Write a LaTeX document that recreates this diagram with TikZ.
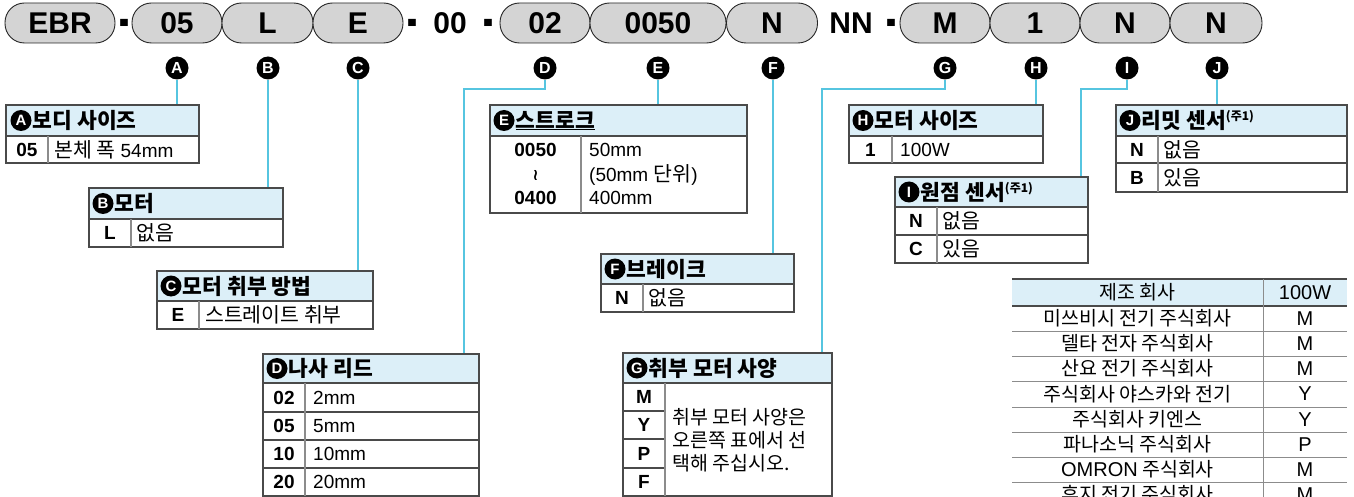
\documentclass[tikz,border=0pt]{standalone}
\usepackage{fontspec}
\setmainfont{Liberation Sans}
\newfontfamily\kr{Noto Sans CJK KR}
\newfontfamily\lat{Liberation Sans}
\newfontfamily\dejavu{DejaVu Sans}
\usetikzlibrary{positioning}
\definecolor{wirecyan}{HTML}{56C5E0}
\definecolor{hdrblue}{HTML}{DCEFF8}
\definecolor{pillgray}{HTML}{D4D4D4}
\definecolor{rule}{HTML}{4A4A4A}
\definecolor{rulelight}{HTML}{8C8C8C}
\newcommand{\ko}[1]{{\kr\fontsize{20.5}{22}\selectfont #1}}
\newcommand{\note}{\raisebox{8pt}{\fontsize{12}{12}\selectfont (주1)}}
\tikzset{
  pill/.style={draw=black!85, line width=0.9pt, fill=pillgray, rounded corners=19.5pt, minimum height=40pt, inner sep=0pt, font=\bfseries\fontsize{30}{30}\selectfont},
  sep/.style={anchor=base, inner sep=0pt, font=\bfseries\fontsize{30}{30}\selectfont},
  badge/.style={circle, fill=black, text=white, inner sep=0pt, minimum size=23pt, font=\bfseries\fontsize{16}{16}\selectfont},
  hbadge/.style={circle, fill=black, text=white, inner sep=0pt, minimum size=21pt, font=\bfseries\fontsize{15}{15}\selectfont},
  htxt/.style={inner sep=0pt, font=\kr\bfseries\fontsize{21.5}{23}\selectfont},
  hdr/.style={draw=rule, line width=1.2pt, fill=hdrblue},
  tbl/.style={draw=rule, line width=1.2pt},
  col/.style={draw=rulelight, line width=1.2pt},
  code/.style={inner sep=0pt, font=\bfseries\fontsize{19}{22}\selectfont},
  desc/.style={inner sep=0pt, anchor=west, font=\fontsize{19}{22}\selectfont},
  link/.style={draw=wirecyan, line width=1.3pt},
  maker/.style={inner sep=0pt, font=\kr\fontsize{19.5}{21}\selectfont},
  makerval/.style={inner sep=0pt, font=\fontsize{20}{22}\selectfont},
}
\begin{document}
\begin{tikzpicture}[x=1pt,y=-1pt]
\useasboundingbox (0,0) rectangle (1354,497);
\clip (0,0) rectangle (1354,497);

% model code
\node[pill, minimum width=110pt] (pebr) at (60,23) {EBR};
\node[sep] (s1) at (124,39) {\scalebox{1}[2]{-}};
\node[pill, minimum width=90pt] (pa) at (177,23) {05};
\node[pill, minimum width=91pt] (pb) at (267.5,23) {L};
\node[pill, minimum width=90pt] (pc) at (358,23) {E};
\node[sep] (s2) at (412,39) {\scalebox{1}[2]{-}};
\node[sep] (s00) at (450,34) {00};
\node[sep] (s3) at (488,39) {\scalebox{1}[2]{-}};
\node[pill, minimum width=90pt] (pd) at (545,23) {02};
\node[pill, minimum width=136pt] (pe) at (658,23) {0050};
\node[pill, minimum width=91pt] (pf) at (772,23) {N};
\node[sep] (snn) at (851,34) {NN};
\node[sep] (s4) at (891,39) {\scalebox{1}[2]{-}};
\node[pill, minimum width=90pt] (pg) at (945,23) {M};
\node[pill, minimum width=90pt] (ph) at (1035,23) {1};
\node[pill, minimum width=90pt] (pi) at (1125,23) {N};
\node[pill, minimum width=92pt] (pj) at (1216,23) {N};

\foreach \n/\x/\l in {a/177/A,b/268/B,c/358/C,d/545/D,e/658/E,f/773/F,g/945/G,h/1036/H,i/1127/I,j/1217/J}
  {\node[badge] (c\n) at (\x,68) {\l};}

% connectors
\foreach \n/\x/\y in {a/177/105,b/268/188,c/358/271,e/658/105,f/773/254,h/1036/105,j/1217/105}
  {\coordinate (t\n) at (\x,\y); \draw[link] (c\n) -- (t\n);}
\coordinate (kd) at (545,89); \coordinate (td) at (464,354);
\coordinate (kg) at (945,89); \coordinate (tg) at (822,353);
\coordinate (ki) at (1127,89); \coordinate (ti) at (1081,177);
\draw[link] (cd) -- (kd) -| (td);
\draw[link] (cg) -- (kg) -| (tg);
\draw[link] (ci) -- (ki) -| (ti);

% A
\draw[hdr] (6,105) rectangle (199,136);
\draw[tbl] (6,136) rectangle (199,163);
\draw[col] (48,136) -- (48,163);
\node[hbadge] (ha) at (21,120.5) {A};
\node[htxt, right=1pt of ha] (hta) {보디 사이즈};
\node[code] (a05) at (27,149.5) {05};
\node[desc] (ad) at (54,149.5) {\ko{본체 폭} 54mm};

% B
\draw[hdr] (89,188) rectangle (283,219);
\draw[tbl] (89,219) rectangle (283,247);
\draw[col] (131,219) -- (131,247);
\node[hbadge] (hb) at (103,203.5) {B};
\node[htxt, right=1pt of hb] (htb) {모터};
\node[code] (bl) at (110,233) {L};
\node[desc] (bd) at (136,233) {\ko{없음}};

% C
\draw[hdr] (157,271) rectangle (373,301);
\draw[tbl] (157,301) rectangle (373,329);
\draw[col] (199,301) -- (199,329);
\node[hbadge] (hc) at (171,286) {C};
\node[htxt, right=1pt of hc] (htc) {모터 취부 방법};
\node[code] (ce) at (178,315) {E};
\node[desc] (cdsc) at (205,315) {\ko{스트레이트 취부}};

% D
\draw[hdr] (263,354) rectangle (479,383);
\draw[tbl] (263,383) rectangle (479,496);
\foreach \y in {412,440,468} {\draw[tbl] (263,\y) -- (479,\y);}
\draw[col] (305,383) -- (305,496);
\node[hbadge] (hd) at (277,368.5) {D};
\node[htxt, right=1pt of hd] (htd) {나사 리드};
\foreach \c/\d/\y in {02/2mm/397.5,05/5mm/426,10/10mm/454,20/20mm/482}
  {\node[code] (d\c) at (284,\y) {\c}; \node[desc] (dd\c) at (313,\y) {\d};}

% E
\draw[hdr] (490,105) rectangle (747,136);
\draw[tbl] (490,136) rectangle (747,213);
\draw[col] (581,136) -- (581,213);
\node[hbadge] (he) at (504,120.5) {E};
\node[htxt, right=1pt of he] (hte) {\underline{스트로크}};
\node[code] (e1) at (535.5,150) {0050};
\node[inner sep=0pt, font=\dejavu\bfseries\fontsize{16}{16}\selectfont] (e2) at (535.5,175) {≀};
\node[code] (e3) at (535.5,198) {0400};
\node[desc] (ed1) at (589,150) {50mm};
\node[desc] (ed2) at (589,175) {(50mm \ko{단위})};
\node[desc] (ed3) at (589,198) {400mm};

% F
\draw[hdr] (601,254) rectangle (794,284);
\draw[tbl] (601,284) rectangle (794,312);
\draw[col] (643,284) -- (643,312);
\node[hbadge] (hf) at (615,269) {F};
\node[htxt, right=1pt of hf] (htf) {브레이크};
\node[code] (fn) at (622,298) {N};
\node[desc] (fd) at (648,298) {\ko{없음}};

% G
\draw[hdr] (623,353) rectangle (832,383);
\draw[tbl] (623,383) rectangle (832,496);
\foreach \y in {411,439,468} {\draw[tbl] (623,\y) -- (665,\y);}
\draw[col] (665,383) -- (665,496);
\node[hbadge] (hg) at (637,368) {G};
\node[htxt, right=1pt of hg] (htg) {취부 모터 사양};
\foreach \c/\y in {M/397,Y/425,P/453.5,F/482}
  {\node[code] (g\c) at (644,\y) {\c};}
\node[inner sep=0pt, anchor=west, align=left, font=\kr\fontsize{19.5}{23}\selectfont] (gd) at (672,440.5)
  {취부 모터 사양은\\오른쪽 표에서 선\\택해 주십시오.};

% H
\draw[hdr] (849,105) rectangle (1043,136);
\draw[tbl] (849,136) rectangle (1043,163);
\draw[col] (892,136) -- (892,163);
\node[hbadge] (hh) at (863,120.5) {H};
\node[htxt, right=1pt of hh] (hth) {모터 사이즈};
\node[code] (h1) at (870.5,149.5) {1};
\node[desc] (hdsc) at (900,149.5) {100W};

% I
\draw[hdr] (895,177) rectangle (1088,207);
\draw[tbl] (895,207) rectangle (1088,263);
\draw[tbl] (895,235) -- (1088,235);
\draw[col] (937,207) -- (937,263);
\node[hbadge] (hi) at (909,192) {I};
\node[htxt, right=1pt of hi] (hti) {원점 센서\note};
\node[code] (in) at (916,221) {N};
\node[desc] (ind) at (942,221) {\ko{없음}};
\node[code] (ic) at (916,249) {C};
\node[desc] (icd) at (942,249) {\ko{있음}};

% J
\draw[hdr] (1116,105) rectangle (1347,136);
\draw[tbl] (1116,136) rectangle (1347,192);
\draw[tbl] (1116,163) -- (1347,163);
\draw[col] (1158,136) -- (1158,192);
\node[hbadge] (hj) at (1130,120.5) {J};
\node[htxt, right=1pt of hj] (htj) {리밋 센서\note};
\node[code] (jn) at (1137,149.5) {N};
\node[desc] (jnd) at (1163,149.5) {\ko{없음}};
\node[code] (jb) at (1137,177.5) {B};
\node[desc] (jbd) at (1163,177.5) {\ko{있음}};

% motor makers
\fill[hdrblue] (1012,279) rectangle (1347,306);
\draw[rule, line width=1.5pt] (1012,279) -- (1347,279);
\draw[rule, line width=1.2pt] (1012,306) -- (1347,306);
\foreach \y in {331,356,381,407,432,457,482} {\draw[rulelight, line width=0.9pt] (1012,\y) -- (1347,\y);}
\draw[rulelight, line width=1pt] (1263,279) -- (1263,497);
\node[maker] (mh) at (1137.5,292.5) {제조 회사};
\node[makerval] (mv) at (1305,292.5) {100W};
\foreach \m/\v/\y [count=\i] in {미쓰비시 전기 주식회사/M/318.5,델타 전자 주식회사/M/343.5,산요 전기 주식회사/M/368.5,주식회사 야스카와 전기/Y/394,주식회사 키엔스/Y/419.5,파나소닉 주식회사/P/444.5,{\lat\fontsize{20}{22}\selectfont OMRON} 주식회사/M/469.5,후지 전기 주식회사/M/494.5}
  {\node[maker] (m\i) at (1137.5,\y) {\m}; \node[makerval] (v\i) at (1305,\y) {\v};}
\end{tikzpicture}
\end{document}
